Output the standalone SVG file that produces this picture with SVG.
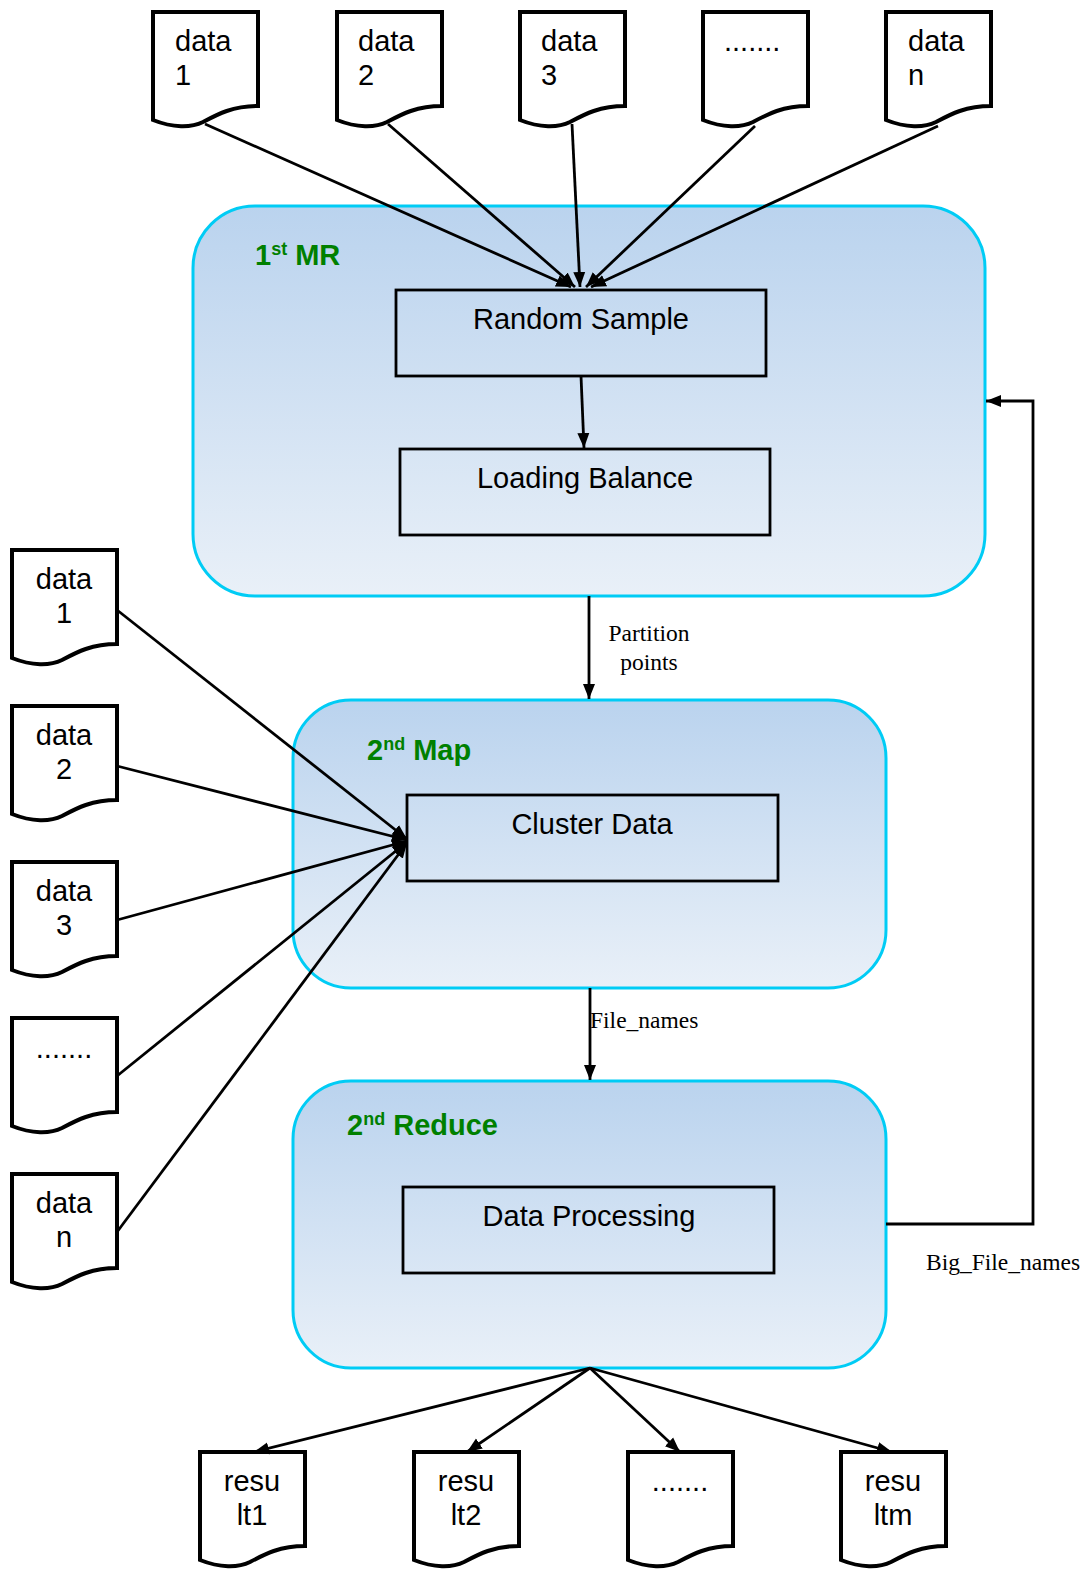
<svg xmlns="http://www.w3.org/2000/svg" width="1089" height="1569" viewBox="0 0 1089 1569">
<defs>
<linearGradient id="g" x1="0" y1="0" x2="0" y2="1">
<stop offset="0" stop-color="#BAD3EE"/>
<stop offset="1" stop-color="#E9F0F8"/>
</linearGradient>
<marker id="ah" viewBox="0 0 10 10" refX="10" refY="5" markerWidth="15" markerHeight="15" orient="auto" markerUnits="userSpaceOnUse">
<path d="M0,1 L10,5 L0,9 Z" fill="#000"/>
</marker>
<path id="doc" d="M0,0 H105 V94 C80,94 65,102 50,110 C38,116 20,116 0,108 Z"/>
</defs>
<style>
.doc{fill:#fff;stroke:#000;stroke-width:4}
.cont{fill:url(#g);stroke:#00CCF5;stroke-width:3}
.box{fill:none;stroke:#000;stroke-width:2.8}
.t{font-family:"Liberation Sans",Arial,sans-serif;font-size:29px;fill:#000}
.tc{text-anchor:middle}
.title{font-family:"Liberation Sans",Arial,sans-serif;font-size:29px;font-weight:bold;fill:#008000}
.sup{font-size:18px}
.lbl{font-family:"Liberation Serif","Times New Roman",serif;font-size:23.5px;fill:#000}
.c{stroke:#000;stroke-width:2.8;fill:none}
</style>

<g id="mr1">
<rect class="cont" x="193" y="206" width="792" height="390" rx="62"/>
<text class="title" x="255" y="265">1<tspan class="sup" dy="-10">st</tspan><tspan dy="10"> MR</tspan></text>
</g>
<g id="random-sample">
<rect class="box" x="396" y="290" width="370" height="86"/>
<text class="t tc" x="581" y="329">Random Sample</text>
</g>
<g id="loading-balance">
<rect class="box" x="400" y="449" width="370" height="86"/>
<text class="t tc" x="585" y="488">Loading Balance</text>
</g>

<g id="map2">
<rect class="cont" x="293" y="700" width="593" height="288" rx="58"/>
<text class="title" x="367" y="760">2<tspan class="sup" dy="-10">nd</tspan><tspan dy="10"> Map</tspan></text>
</g>
<g id="cluster-data">
<rect class="box" x="407" y="795" width="371" height="86"/>
<text class="t tc" x="592" y="834">Cluster Data</text>
</g>

<g id="reduce2">
<rect class="cont" x="293" y="1081" width="593" height="287" rx="58"/>
<text class="title" x="347" y="1135">2<tspan class="sup" dy="-10">nd</tspan><tspan dy="10"> Reduce</tspan></text>
</g>
<g id="data-processing">
<rect class="box" x="403" y="1187" width="371" height="86"/>
<text class="t tc" x="589" y="1226">Data Processing</text>
</g>

<g id="top-docs">
<g id="td1"><use href="#doc" class="doc" x="153" y="12"/><text class="t" x="175" y="51">data</text><text class="t" x="175" y="85">1</text></g>
<g id="td2"><use href="#doc" class="doc" x="337" y="12"/><text class="t" x="358" y="51">data</text><text class="t" x="358" y="85">2</text></g>
<g id="td3"><use href="#doc" class="doc" x="520" y="12"/><text class="t" x="541" y="51">data</text><text class="t" x="541" y="85">3</text></g>
<g id="td4"><use href="#doc" class="doc" x="703" y="12"/><text class="t" x="724" y="51">.......</text></g>
<g id="td5"><use href="#doc" class="doc" x="886" y="12"/><text class="t" x="908" y="51">data</text><text class="t" x="908" y="85">n</text></g>
</g>

<g id="left-docs">
<g id="ld1"><use href="#doc" class="doc" x="12" y="550"/><text class="t tc" x="64" y="589">data</text><text class="t tc" x="64" y="623">1</text></g>
<g id="ld2"><use href="#doc" class="doc" x="12" y="706"/><text class="t tc" x="64" y="745">data</text><text class="t tc" x="64" y="779">2</text></g>
<g id="ld3"><use href="#doc" class="doc" x="12" y="862"/><text class="t tc" x="64" y="901">data</text><text class="t tc" x="64" y="935">3</text></g>
<g id="ld4"><use href="#doc" class="doc" x="12" y="1018"/><text class="t tc" x="64" y="1058">.......</text></g>
<g id="ld5"><use href="#doc" class="doc" x="12" y="1174"/><text class="t tc" x="64" y="1213">data</text><text class="t tc" x="64" y="1247">n</text></g>
</g>

<g id="bottom-docs">
<g id="bd1"><use href="#doc" class="doc" x="200" y="1452"/><text class="t tc" x="252" y="1491">resu</text><text class="t tc" x="252" y="1525">lt1</text></g>
<g id="bd2"><use href="#doc" class="doc" x="414" y="1452"/><text class="t tc" x="466" y="1491">resu</text><text class="t tc" x="466" y="1525">lt2</text></g>
<g id="bd3"><use href="#doc" class="doc" x="628" y="1452"/><text class="t tc" x="680" y="1491">.......</text></g>
<g id="bd4"><use href="#doc" class="doc" x="841" y="1452"/><text class="t tc" x="893" y="1491">resu</text><text class="t tc" x="893" y="1525">ltm</text></g>
</g>

<g id="connectors">
<line class="c" x1="205" y1="124" x2="571" y2="287" marker-end="url(#ah)"/>
<line class="c" x1="388" y1="124" x2="575" y2="287" marker-end="url(#ah)"/>
<line class="c" x1="572" y1="124" x2="580" y2="287" marker-end="url(#ah)"/>
<line class="c" x1="755" y1="126" x2="586" y2="287" marker-end="url(#ah)"/>
<line class="c" x1="938" y1="126" x2="591" y2="287" marker-end="url(#ah)"/>
<line class="c" x1="581" y1="376" x2="584" y2="448" marker-end="url(#ah)"/>
<line class="c" x1="589" y1="596" x2="589" y2="699" marker-end="url(#ah)"/>
<line class="c" x1="590" y1="988" x2="590" y2="1080" marker-end="url(#ah)"/>
<path class="c" d="M886,1224 H1033 V401 H986" marker-end="url(#ah)"/>
<line class="c" x1="117" y1="610" x2="407" y2="839" marker-end="url(#ah)"/>
<line class="c" x1="117" y1="766" x2="407" y2="840" marker-end="url(#ah)"/>
<line class="c" x1="117" y1="920" x2="407" y2="841" marker-end="url(#ah)"/>
<line class="c" x1="117" y1="1076" x2="407" y2="842" marker-end="url(#ah)"/>
<line class="c" x1="117" y1="1232" x2="407" y2="843" marker-end="url(#ah)"/>
<line class="c" x1="590" y1="1368" x2="254" y2="1452" marker-end="url(#ah)"/>
<line class="c" x1="590" y1="1368" x2="467" y2="1452" marker-end="url(#ah)"/>
<line class="c" x1="590" y1="1368" x2="680" y2="1452" marker-end="url(#ah)"/>
<line class="c" x1="590" y1="1368" x2="892" y2="1452" marker-end="url(#ah)"/>
<text class="lbl tc" x="649" y="641">Partition</text>
<text class="lbl tc" x="649" y="670">points</text>
<text class="lbl" x="590" y="1028">File_names</text>
<text class="lbl" x="926" y="1270">Big_File_names</text>
</g>
</svg>
